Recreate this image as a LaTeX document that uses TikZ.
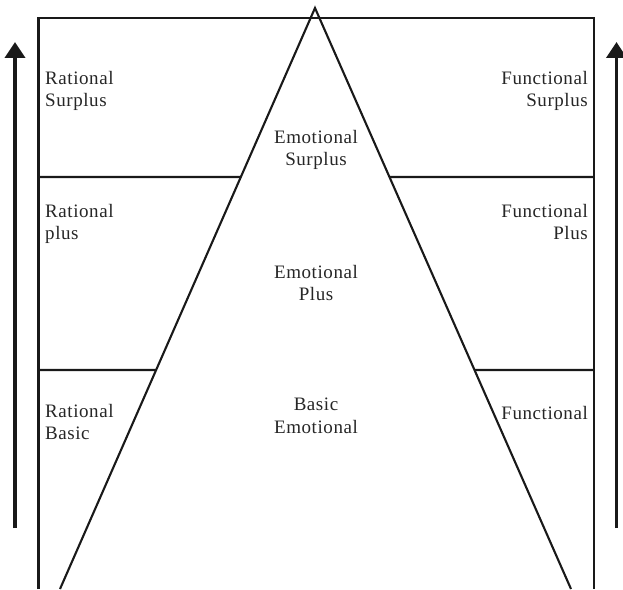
\documentclass[tikz,border=0pt]{standalone}
\usepackage{fontspec}
\setmainfont[LetterSpace=3]{Liberation Serif}
\usetikzlibrary{arrows.meta,calc}
\begin{document}
\begin{tikzpicture}[x=1pt,y=1pt,
  frame/.style={line width=2.1pt, draw=black!90, line join=miter},
  level/.style={line width=2.1pt, draw=black!90},
  uparrow/.style={line width=3.6pt, draw=black!90, -{Triangle[length=16pt,width=20pt]}},
  lbl/.style={inner sep=0pt, font=\fontsize{19}{22.5}\selectfont, text=black!85},
  lleft/.style={lbl, anchor=north west, align=left},
  lright/.style={lbl, anchor=north east, align=right},
  lmid/.style={lbl, anchor=north, align=center}]
\useasboundingbox (0,0) rectangle (623,589);
% frame
\coordinate (bl) at (38.5,0);
\coordinate (tl) at (38.5,571);
\coordinate (tr) at (594,571);
\coordinate (br) at (594,0);
\draw[frame] (bl) -- (tl) -- (tr) -- (br);
% triangle
\coordinate (apex) at (315,581);
\coordinate (baseL) at (60,0);
\coordinate (baseR) at (571,0);
\draw[frame] (baseL) -- (apex) -- (baseR);
% level lines
\coordinate (l1) at (38.5,412);
\coordinate (r1) at (594,412);
\coordinate (l2) at (38.5,219);
\coordinate (r2) at (594,219);
\coordinate (t1L) at ($(apex)!0.2909!(baseL)$);
\coordinate (t1R) at ($(apex)!0.2909!(baseR)$);
\coordinate (t2L) at ($(apex)!0.6231!(baseL)$);
\coordinate (t2R) at ($(apex)!0.6231!(baseR)$);
\draw[level] (l1) -- (t1L);
\draw[level] (t1R) -- (r1);
\draw[level] (l2) -- (t2L);
\draw[level] (t2R) -- (r2);
% arrows
\coordinate (la0) at (15,61);
\coordinate (la1) at (15,547);
\coordinate (ra0) at (616.5,61);
\coordinate (ra1) at (616.5,547);
\draw[uparrow] (la0) -- (la1);
\draw[uparrow] (ra0) -- (ra1);
% labels
\node[lleft] (rs) at (45,518) {Rational\\Surplus};
\node[lleft] (rp) at (45,385) {Rational\\plus};
\node[lleft] (rb) at (45,185) {Rational\\Basic};
\node[lmid] (es) at (316,459) {Emotional\\Surplus};
\node[lmid] (ep) at (316,324) {Emotional\\Plus};
\node[lmid] (be) at (316,191) {Basic\\Emotional};
\node[lright] (fs) at (588,518) {Functional\\Surplus};
\node[lright] (fp) at (588,385) {Functional\\Plus};
\node[lright] (fb) at (588,183) {Functional};
\end{tikzpicture}
\end{document}
